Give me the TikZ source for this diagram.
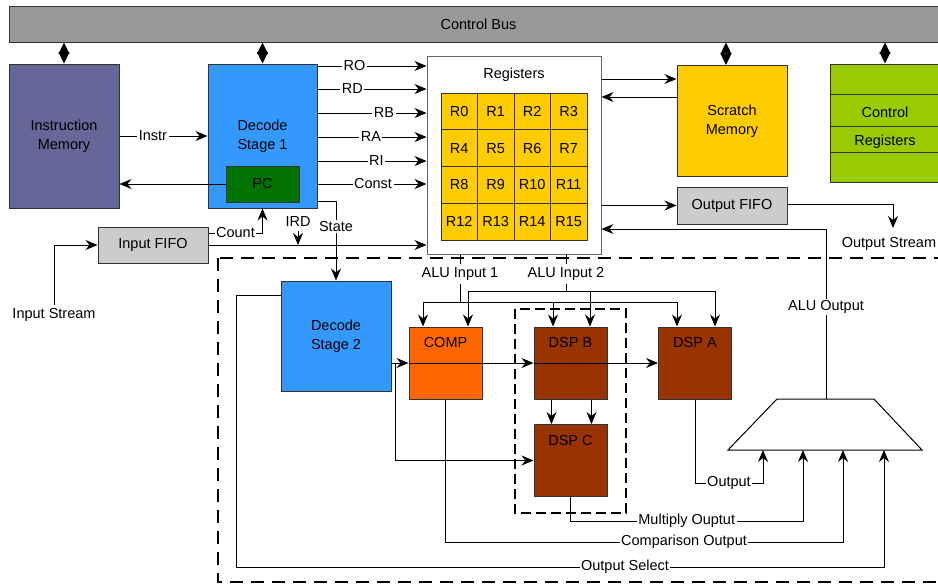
\documentclass[tikz,border=0pt]{standalone}
\usepackage{fontspec}
\setmainfont{Liberation Sans}
\usetikzlibrary{arrows.meta}

\definecolor{gris}{HTML}{999999}
\definecolor{grisclaro}{HTML}{CCCCCC}
\definecolor{morado}{HTML}{666699}
\definecolor{azul}{HTML}{3399FF}
\definecolor{verde}{HTML}{007300}
\definecolor{amarillo}{HTML}{FFCC00}
\definecolor{verdeclaro}{HTML}{99CC00}
\definecolor{naranja}{HTML}{FF6600}
\definecolor{marron}{HTML}{993300}

\begin{document}
\begin{tikzpicture}[x=1pt, y=-1pt, font=\fontsize{14.5}{18.5}\selectfont,
  caja/.style={draw=black!80, line width=1pt, align=center, inner sep=0pt},
  unidad/.style={caja, minimum width=73pt, minimum height=72pt},
  titulo/.style={anchor=north, yshift=-11pt, inner sep=0pt},
  linea/.style={line width=1pt},
  flecha/.style={-{Stealth[length=12pt,width=10pt,inset=4pt]}, line width=1pt},
  busflecha/.style={{Stealth[length=11.5pt,width=11pt,inset=0.5pt]}-{Stealth[length=11.5pt,width=11pt,inset=0.5pt]}, line width=1pt},
  etiq/.style={fill=white, inner sep=1.5pt}]

\useasboundingbox (0,0) rectangle (938,587);
\clip (0,0) rectangle (938,587);

% Bus de control
\node[caja, fill=gris, minimum width=939pt, minimum height=36pt] (bus) at (478.5,24) {Control Bus};

% Memoria de instrucciones
\node[caja, fill=morado, minimum width=110pt, minimum height=144pt] (imem) at (64,136) {Instruction\\[1pt]Memory};

% Decodificador 1 y PC
\node[caja, fill=azul, minimum width=109pt, minimum height=144pt] (dec1) at (262.5,136) {Decode\\[1pt]Stage 1};
\node[caja, fill=verde, minimum width=73pt, minimum height=36pt] (pc) at (262.5,184) {PC};

% Registros
\node[draw=black!60, line width=1pt, fill=white, minimum width=174pt, minimum height=198pt] (regs) at (514,155) {};
\node (regsname) at (514,75) {Registers};
\foreach \i in {0,...,3}
  \foreach \j in {0,...,3} {
    \pgfmathtruncatemacro{\n}{4*\i+\j}
    \node[caja, fill=amarillo, minimum width=36.5pt, minimum height=36.75pt] (r\n)
      at (441+36.5*\j+18.25, 93+36.75*\i+18.375) {R\n};
  }

% Memoria scratch
\node[caja, fill=amarillo, minimum width=110pt, minimum height=111pt] (scratch) at (732,121) {Scratch\\[1pt]Memory};

% Registros de control
\node[caja, fill=verdeclaro, minimum width=110pt, minimum height=118pt] (ctrl) at (885,123) {};
\foreach \y in {94,126,152}
  \draw[linea, black!80] (ctrl.west |- 0,\y) -- (ctrl.east |- 0,\y);
\node (ctrl1) at (885,112) {Control};
\node (ctrl2) at (885,142) {Registers};

% FIFOs
\node[caja, fill=grisclaro, minimum width=110pt, minimum height=37pt] (ofifo) at (732,205.5) {Output FIFO};
\node[caja, fill=grisclaro, minimum width=110pt, minimum height=36pt] (ififo) at (153,245) {Input FIFO};

% Zona ALU
\draw[line width=2.8pt, dash pattern=on 13pt off 8pt] (218,258) rectangle (941,582);

% Decodificador 2
\node[caja, fill=azul, minimum width=110pt, minimum height=110pt] (dec2) at (336,336) {Decode\\[1pt]Stage 2};

% Grupo DSP
\draw[line width=2pt, dash pattern=on 10pt off 5pt] (515,309) rectangle (626,513);

% Unidades
\node[unidad, fill=naranja, label={[titulo]north:COMP}] (comp) at (445.5,363) {};
\node[unidad, fill=marron, label={[titulo]north:DSP B}] (dspb) at (570.5,363) {};
\node[unidad, fill=marron, label={[titulo]north:DSP C}] (dspc) at (570.5,460.5) {};
\node[unidad, fill=marron, label={[titulo]north:DSP A}] (dspa) at (695,363) {};

% Multiplexor
\draw[linea, fill=white] (777,399) -- (874,399) -- (922,450) -- (728,450) -- cycle;
\coordinate (mux) at (826,399);
\coordinate (m1) at (763,450);
\coordinate (m2) at (803,450);
\coordinate (m3) at (843,450);
\coordinate (m4) at (884,450);

% Textos sueltos
\node (alu1) at (460,274) {ALU Input 1};
\node (alu2) at (566,274) {ALU Input 2};
\node (ird) at (298,222) {IRD};
\node (istream) at (54,315) {Input Stream};
\node (ostream) at (889,244) {Output Stream};
\coordinate (ostr) at (893,228);
\coordinate (in1) at (460,302);
\coordinate (in2) at (566,291);

% Bus
\foreach \b in {imem,dec1,ctrl}
  \draw[busflecha] (\b.north) -- (\b.north |- bus.south);
\draw[busflecha] ([xshift=-6pt]scratch.north) -- ([xshift=-6pt]scratch.north |- bus.south);

% Instr y PC
\draw[flecha] (imem) -- node[etiq, pos=0.38]{Instr} (dec1);
\draw[flecha] (pc.west) -- (pc.west -| imem.east);

% Decodificador 1 a registros
\foreach \y/\t/\p in {66/RO/0.34, 89/RD/0.32, 113/RB/0.61, 137/RA/0.49, 161/RI/0.54, 184/Const/0.51}
  \draw[flecha] (dec1.east |- 0,\y) -- node[etiq, pos=\p]{\t} (regs.west |- 0,\y);

% State, Count, IRD
\draw[flecha] ([yshift=7pt]dec1.south east) -| node[etiq, pos=0.66]{State} (dec2.north);
\draw[flecha] ([yshift=12pt]ififo.east) -| node[etiq, pos=0.25]{Count} (dec1.south);
\draw[flecha] (ififo.east) -- (ififo.east -| regs.west);
\draw[flecha] (ird.south) -- (ird.south |- ififo.east);
\draw[flecha] (istream.north) |- (ififo.west);

% Scratch y salida
\draw[flecha] (regs.east |- 0,79) -- (scratch.west |- 0,79);
\draw[flecha] (scratch.west |- 0,97) -- (regs.east |- 0,97);
\draw[flecha] (regs.east |- ofifo.west) -- (ofifo.west);
\draw[flecha] ([yshift=1pt]ofifo.east) -| (ostr);
\draw[flecha] (mux) |- node[etiq, pos=0.27]{ALU Output} (regs.east |- 0,229);

% Decodificador 2 a unidades
\draw[flecha] (dec2.east |- comp.west) -- (comp.west);
\draw[flecha] (comp.west) -- (dspb.west);
\draw[flecha] (dspb.west) -- (dspa.west);
\draw[flecha] ([xshift=4pt]dec2.east |- comp.west) |- (dspc.west);
\draw[flecha] ([xshift=-19pt]dspb.south) -- ([xshift=-19pt]dspc.north);
\draw[flecha] ([xshift=21pt]dspb.south) -- ([xshift=21pt]dspc.north);

% Entradas ALU
\draw[linea] (regs.south -| alu1) -- (alu1.north) (alu1.south) -- (in1);
\draw[linea] (regs.south -| alu2) -- (alu2.north) (alu2.south) -- (in2);
\draw[flecha] (in1) -| ([xshift=-22.5pt]comp.north);
\draw[flecha] (in1) -| ([xshift=-17.5pt]dspb.north);
\draw[flecha] (in1) -| ([xshift=-18pt]dspa.north);
\draw[flecha] (in2) -| ([xshift=22.5pt]comp.north);
\draw[flecha] (in2) -| ([xshift=19.5pt]dspb.north);
\draw[flecha] (in2) -| ([xshift=20pt]dspa.north);

% Salidas al multiplexor
\draw[flecha] (dspa.south) |- node[etiq, pos=0.75]{Output} (m1 |- 0,483) -- (m1);
\draw[flecha] (dspc.south) |- node[etiq, pos=0.75]{Multiply Ouptut} (m2 |- 0,521) -- (m2);
\draw[flecha] (comp.south) |- node[etiq, pos=0.8]{Comparison Output} (m3 |- 0,542) -- (m3);
\draw[flecha] ([yshift=41pt]dec2.west) -- ++(-44,0) |- node[etiq, pos=0.8]{Output Select} (m4 |- 0,567) -- (m4);

\end{tikzpicture}
\end{document}
